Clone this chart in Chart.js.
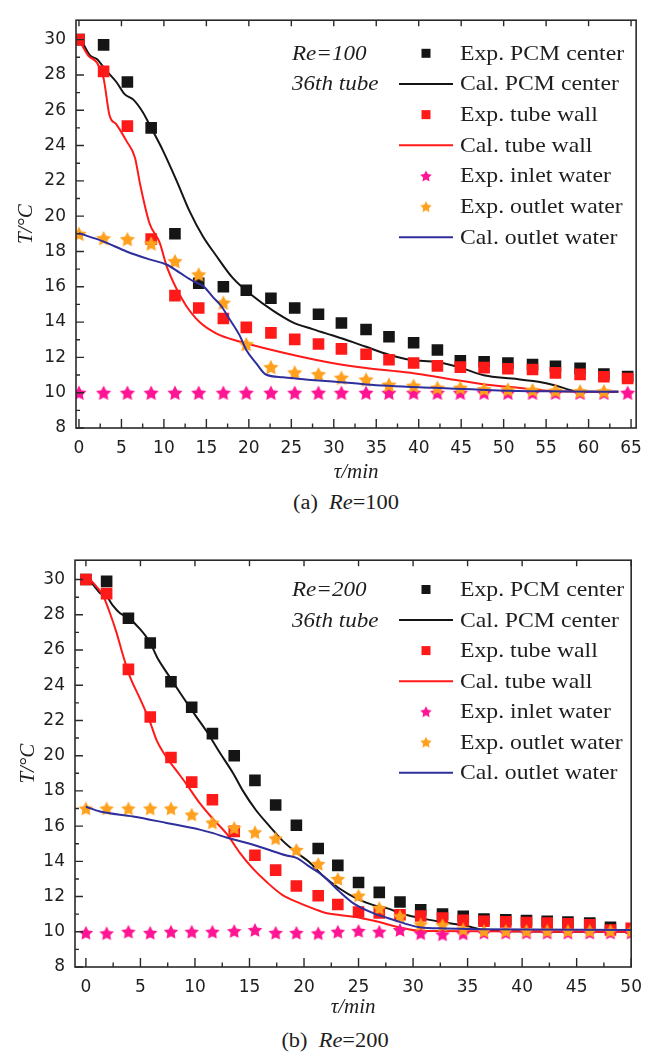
<!DOCTYPE html>
<html>
<head>
<meta charset="utf-8">
<script src="https://cdn.jsdelivr.net/npm/chart.js@4.4.1/dist/chart.umd.min.js"></script>
<style>
  html, body { margin: 0; padding: 0; background: #fff; }
  body { width: 652px; height: 1054px; position: relative; overflow: hidden; }
  canvas { position: absolute; left: 0; }
  #chartA { top: 0; }
  #chartB { top: 540px; }
  .cap {
    position: absolute;
    font-family: "Liberation Serif", "Times New Roman", serif;
    font-size: 20px;
    color: #1e1e1e;
    white-space: pre;
    line-height: 1;
    transform: translate(-50%, -50%) scaleX(1.12);
  }
</style>
</head>
<body>
<canvas id="chartA" width="652" height="490"></canvas>
<canvas id="chartB" width="652" height="480"></canvas>
<div class="cap" style="left:346px; top:502px;">(a)  <i>Re</i>=100</div>
<div class="cap" style="left:335px; top:1040px;">(b)  <i>Re</i>=200</div>

<script>
// ---- series names (legend order) ----
const seriesNames = ['Exp. PCM center', 'Cal. PCM center', 'Exp. tube wall', 'Cal. tube wall',
                     'Exp. inlet water', 'Exp. outlet water', 'Cal. outlet water'];

// ---- axis ticks ----
const yTicks  = [8, 10, 12, 14, 16, 18, 20, 22, 24, 26, 28, 30];
const xTicksA = [0, 5, 10, 15, 20, 25, 30, 35, 40, 45, 50, 55, 60, 65];
const xTicksB = [0, 5, 10, 15, 20, 25, 30, 35, 40, 45, 50];

// ---- (a) Re=100 : measurements ----
const tExpA = [0, 2.9, 5.7, 8.5, 11.3, 14.1, 17.0, 19.7, 22.6, 25.4, 28.2, 30.9,
               33.8, 36.5, 39.4, 42.2, 44.9, 47.7, 50.5, 53.4, 56.1, 59.0, 61.8, 64.6];
const expCenterA = [30.0, 29.7, 27.6, 25.0, 19.0, 16.2, 16.0, 15.8, 15.35, 14.8, 14.44, 13.95,
                    13.58, 13.17, 12.83, 12.42, 11.81, 11.75, 11.68, 11.59, 11.49, 11.38, 11.06, 10.92];
const expWallA = [30.0, 28.2, 25.1, 18.7, 15.5, 14.8, 14.2, 13.7, 13.39, 13.02, 12.76, 12.48,
                  12.18, 11.87, 11.68, 11.52, 11.45, 11.42, 11.36, 11.31, 11.12, 11.04, 10.9, 10.8];
const expInletA = [10, 10, 10, 10, 10, 10, 10, 10, 10, 10, 10, 10,
                   10, 10, 10, 10, 10, 10, 10, 10, 10, 10, 10, 10];
const expOutletA = [19.0, 18.75, 18.7, 18.45, 17.45, 16.7, 15.1, 12.75, 11.45, 11.15, 11.05, 10.85,
                    10.75, 10.45, 10.4, 10.28, 10.28, 10.2, 10.18, 10.15, 10.12, 10.08, 10.08];

// ---- (a) Re=100 : calculation ----
const tCalCenterA = [0.2, 1.3, 2.1, 3.2, 4.4, 5.4, 6.4, 7.5, 8.5, 9.9, 11.5, 13.0, 14.6, 16.1, 18.1, 20.4,
                     22.8, 25.1, 27.5, 29.8, 31.0, 33.8, 36.5, 39.2, 42.0, 44.7, 47.8, 51.0, 54.1, 56.0,
                     58.0, 59.0, 63.5];
const calCenterA = [30.05, 29.1, 28.9, 28.25, 27.6, 26.9, 26.6, 25.9, 25.0, 23.7, 22.0, 20.3, 18.85, 17.8, 16.5, 15.5,
                    14.66, 14.0, 13.6, 13.25, 13.07, 12.6, 12.15, 11.85, 11.75, 11.45, 10.97, 10.8, 10.62, 10.42,
                    10.13, 10.05, 10.05];
const tCalWallA = [0, 1.1, 2.1, 2.9, 3.6, 4.4, 5.6, 6.6, 7.2, 8.3, 9.5, 10.3, 11.5, 12.6, 14.2, 16.2,
                   18.9, 22.0, 25.1, 29.8, 33.8, 37.7, 40.0, 43.9, 47.8, 51.7, 55.6, 63.5];
const calWallA = [30.0, 29.1, 28.7, 27.8, 25.7, 25.2, 24.25, 23.3, 21.8, 19.6, 18.5, 17.2, 15.87, 14.94, 14.0, 13.35,
                  12.9, 12.5, 12.15, 11.68, 11.4, 11.2, 11.06, 10.75, 10.47, 10.28, 10.1, 10.05];
const tCalOutletA = [0, 2.85, 5.6, 8.3, 10.3, 11.85, 13.4, 14.6, 15.8, 16.7, 17.7, 18.9, 19.7, 20.85,
                     22.0, 24.0, 26.7, 29.5, 33.8, 41.6, 49.4, 55.4, 63.5];
const calOutletA = [19.03, 18.57, 18.0, 17.55, 17.26, 16.8, 16.33, 16.05, 15.4, 14.94, 14.19, 13.26, 12.42, 11.68,
                    11.03, 10.88, 10.75, 10.65, 10.47, 10.28, 10.13, 10.08, 10.05];

// ---- (b) Re=200 : measurements ----
const tExpB = [0, 1.9, 3.9, 5.9, 7.8, 9.7, 11.6, 13.6, 15.5, 17.4, 19.3, 21.3, 23.1, 25.0,
               26.9, 28.8, 30.7, 32.7, 34.6, 36.5, 38.5, 40.4, 42.3, 44.2, 46.2, 48.1, 50.0];
const expCenterB = [30.0, 29.9, 27.8, 26.4, 24.2, 22.75, 21.25, 20.0, 18.6, 17.2, 16.05, 14.73, 13.77, 12.8,
                    12.24, 11.69, 11.25, 11.0, 10.88, 10.73, 10.68, 10.64, 10.6, 10.55, 10.5, 10.25];
const expWallB = [30.0, 29.2, 24.9, 22.2, 19.9, 18.5, 17.5, 15.7, 14.35, 13.5, 12.6, 12.05, 11.55, 11.12,
                  11.07, 10.97, 10.9, 10.78, 10.65, 10.6, 10.56, 10.53, 10.5, 10.45, 10.4, 10.1, 10.2];
const expInletB = [9.94, 9.91, 10.0, 9.94, 10.0, 10.0, 10.0, 10.04, 10.1, 9.94, 9.94, 9.91, 10.0, 10.05,
                   10.0, 10.1, 9.91, 9.85, 9.9, 9.95, 9.95, 9.95, 9.95, 9.95, 9.95, 9.95, 9.95];
const expOutletB = [17.0, 17.0, 17.0, 17.0, 17.0, 16.65, 16.2, 15.9, 15.65, 15.3, 14.65, 13.85, 13.0, 12.05,
                    11.35, 10.88, 10.42, 10.38, 10.14, 10.05, 10.05, 10.05, 10.05, 10.05, 10.05, 10.05, 10.05];

// ---- (b) Re=200 : calculation ----
const tCalCenterB = [0.1, 0.67, 1.28, 1.89, 2.5, 3.1, 3.87, 4.95, 5.86, 6.6, 7.4, 8.6, 9.8, 11.05, 12.3, 13.5,
                     14.4, 15.6, 16.85, 18.05, 19.3, 20.5, 21.7, 23.25, 24.8, 26.3, 27.8, 28.75, 30.6, 33.0,
                     34.9, 36.1, 37.9, 50.0];
const calCenterB = [30.1, 29.7, 29.24, 29.05, 28.5, 28.1, 27.84, 27.2, 26.45, 25.5, 24.73, 23.6, 22.5, 21.4, 20.15, 19.0,
                    18.0, 16.9, 15.99, 15.16, 14.5, 13.95, 13.2, 12.46, 11.9, 11.53, 11.3, 11.07, 10.79, 10.51,
                    10.33, 10.14, 10.05, 10.0];
const tCalWallB = [0.1, 0.97, 1.6, 2.2, 2.8, 3.4, 4.0, 4.95, 5.86, 6.5, 7.4, 8.3, 9.2, 10.44, 11.66, 12.9,
                   14.1, 15.3, 16.55, 18.0, 19.6, 21.1, 22.0, 23.25, 25.1, 26.9, 28.75, 30.6, 50.0];
const calWallB = [30.17, 29.6, 29.05, 28.1, 27.0, 25.7, 24.55, 23.25, 21.95, 20.85, 19.9, 19.15, 18.4, 17.3, 16.4, 15.57,
                  14.5, 13.6, 12.84, 12.1, 11.63, 11.26, 11.07, 10.95, 10.8, 10.55, 10.25, 10.05, 10.0];
const tCalOutletB = [0, 1.28, 4.33, 7.4, 10.44, 11.66, 12.9, 14.7, 16.55, 18.4, 19.3, 20.5, 21.7, 23.25,
                     24.5, 26.3, 28.1, 30.6, 33.0, 36.1, 50.0];
const calOutletB = [17.1, 16.83, 16.55, 16.18, 15.8, 15.6, 15.35, 15.06, 14.7, 14.33, 14.2, 13.7, 13.2, 12.28,
                    11.63, 11.07, 10.7, 10.26, 10.19, 10.15, 10.1];

// ---- styling ----
const COL = {
  center: '#151515',
  wall: '#ff1a1a',
  inlet: '#ff1493',
  outlet: '#ffa01e',
  calOutlet: '#2e2e9c',
  ink: '#1e1e1e',
  frame: '#2a2a2a'
};
const SERIF = '"Liberation Serif", "Times New Roman", serif';
const SANS = '"DejaVu Sans", "Liberation Sans", sans-serif';

// filled five-pointed star used as a point marker
function starMarker(color, r) {
  const size = Math.ceil(r * 2) + 2;
  const c = document.createElement('canvas');
  c.width = size; c.height = size;
  const g = c.getContext('2d');
  const cx = size / 2, cy = size / 2 + r * 0.09;
  g.beginPath();
  for (let i = 0; i < 10; i++) {
    const rad = i % 2 === 0 ? r : r * 0.5;
    const a = -Math.PI / 2 + i * Math.PI / 5;
    const px = cx + rad * Math.cos(a), py = cy + rad * Math.sin(a);
    if (i === 0) g.moveTo(px, py); else g.lineTo(px, py);
  }
  g.closePath();
  g.fillStyle = color;
  g.fill();
  return c;
}

const pts = (xs, ys) => ys.map((y, i) => ({ x: xs[i], y }));

function buildDatasets(s, sq, starR) {
  const scatter = (label, data, color, style, radius, order) => ({
    label, data, showLine: false, pointStyle: style, pointRadius: radius, pointHoverRadius: radius,
    backgroundColor: color, borderColor: color, borderWidth: 0, order, clip: 0
  });
  const curve = (label, data, color, order) => ({
    label, data, showLine: true, pointRadius: 0, pointHoverRadius: 0, borderColor: color,
    backgroundColor: color, borderWidth: 2, cubicInterpolationMode: 'monotone', fill: false, order, clip: 0
  });
  return [
    scatter(seriesNames[0], pts(s.tExp, s.expCenter), COL.center, 'rect', sq, 6),
    curve(seriesNames[1], pts(s.tCalCenter, s.calCenter), COL.center, 5),
    scatter(seriesNames[2], pts(s.tExp, s.expWall), COL.wall, 'rect', sq, 4),
    curve(seriesNames[3], pts(s.tCalWall, s.calWall), COL.wall, 3),
    scatter(seriesNames[4], pts(s.tExp, s.expInlet), COL.inlet, starMarker(COL.inlet, starR), starR, 2),
    scatter(seriesNames[5], pts(s.tExp, s.expOutlet), COL.outlet, starMarker(COL.outlet, starR), starR, 1),
    curve(seriesNames[6], pts(s.tCalOutlet, s.calOutlet), COL.calOutlet, 0)
  ];
}

// plot frame with inward major/minor tick marks
const frameTicks = {
  id: 'frameTicks',
  afterDraw(chart, args, o) {
    const { ctx, chartArea: a } = chart;
    const x = chart.scales.x, y = chart.scales.y;
    const xs = x.ticks.map(t => t.value), ys = y.ticks.map(t => t.value);
    const mid = v => v.slice(1).map((w, i) => (w + v[i]) / 2);
    ctx.save();
    ctx.strokeStyle = COL.frame;
    ctx.lineWidth = 1.6;
    ctx.strokeRect(a.left, a.top, a.right - a.left, a.bottom - a.top);
    ctx.lineWidth = 1.4;
    ctx.beginPath();
    xs.forEach(v => {
      const p = x.getPixelForValue(v);
      ctx.moveTo(p, a.bottom); ctx.lineTo(p, a.bottom - o.xMajor);
      ctx.moveTo(p, a.top); ctx.lineTo(p, a.top + o.topMajor);
    });
    mid(xs).forEach(v => {
      const p = x.getPixelForValue(v);
      ctx.moveTo(p, a.bottom); ctx.lineTo(p, a.bottom - o.xMinor);
    });
    ys.forEach(v => {
      const p = y.getPixelForValue(v);
      ctx.moveTo(a.left, p); ctx.lineTo(a.left + o.yMajor, p);
    });
    mid(ys).forEach(v => {
      const p = y.getPixelForValue(v);
      ctx.moveTo(a.left, p); ctx.lineTo(a.left + o.yMinor, p);
    });
    ctx.stroke();
    ctx.restore();
  }
};

// legend and case notes placed inside the plot area
const insideLegend = {
  id: 'insideLegend',
  afterDraw(chart, args, o) {
    const ctx = chart.ctx;
    ctx.save();
    chart.data.datasets.forEach((ds, i) => {
      const yy = o.top + i * o.step;
      if (ds.showLine) {
        ctx.strokeStyle = ds.borderColor;
        ctx.lineWidth = 2;
        ctx.beginPath();
        ctx.moveTo(o.lineFrom, yy); ctx.lineTo(o.lineTo, yy);
        ctx.stroke();
      } else if (ds.pointStyle === 'rect') {
        ctx.fillStyle = ds.backgroundColor;
        ctx.fillRect(o.marker - 4.5, yy - 4.5, 9, 9);
      } else {
        const st = starMarker(ds.backgroundColor, 6);
        ctx.drawImage(st, o.marker - st.width / 2, yy - st.height / 2);
      }
      ctx.save();
      ctx.translate(o.textX, yy + 1);
      ctx.scale(1.13, 1);
      ctx.fillStyle = COL.ink;
      ctx.font = '21px ' + SERIF;
      ctx.textBaseline = 'middle';
      ctx.textAlign = 'left';
      ctx.fillText(ds.label, 0, 0);
      ctx.restore();
    });
    o.notes.forEach((t, i) => {
      ctx.save();
      ctx.translate(o.noteX, o.top + i * o.step + 1);
      ctx.scale(1.1, 1);
      ctx.fillStyle = COL.ink;
      ctx.font = 'italic 21px ' + SERIF;
      ctx.textBaseline = 'middle';
      ctx.fillText(t, 0, 0);
      ctx.restore();
    });
    ctx.restore();
  }
};

function makeChart(id, s, g) {
  return new Chart(document.getElementById(id), {
    type: 'scatter',
    data: { datasets: buildDatasets(s, g.sq, g.starR) },
    options: {
      responsive: false,
      animation: false,
      devicePixelRatio: 1,
      events: [],
      layout: { padding: { left: 0, right: g.padRight, top: g.padTop, bottom: 0 } },
      plugins: {
        legend: { display: false },
        tooltip: { enabled: false },
        frameTicks: { xMajor: 9, xMinor: 4.5, topMajor: 6, yMajor: 8, yMinor: 4 },
        insideLegend: {
          top: g.legTop, step: g.legStep, marker: 426, lineFrom: 399, lineTo: 453,
          textX: 460, noteX: 292, notes: s.notes
        }
      },
      scales: {
        x: {
          type: 'linear', min: g.xMin, max: g.xMax,
          afterBuildTicks: sc => { sc.ticks = s.xTicks.map(v => ({ value: v })); },
          afterFit: sc => { sc.height = g.xAxisH; },
          grid: { display: false, drawTicks: false },
          border: { display: false },
          ticks: { padding: 10, autoSkip: false, maxRotation: 0, color: COL.ink,
                   font: { family: SANS, size: 17 } },
          title: { display: true, text: 'τ/min', color: COL.ink,
                   font: { family: SERIF, size: 21, style: 'italic' },
                   padding: { top: 0, bottom: g.xTitlePad } }
        },
        y: {
          type: 'linear', min: 8, max: 31.1,
          afterBuildTicks: sc => { sc.ticks = yTicks.map(v => ({ value: v })); },
          afterFit: sc => { sc.width = g.yAxisW; },
          grid: { display: false, drawTicks: false },
          border: { display: false },
          ticks: { padding: 10, color: COL.ink, font: { family: SANS, size: 17 } },
          title: { display: true, text: 'T/°C', color: COL.ink,
                   font: { family: SERIF, size: 21, style: 'italic' },
                   padding: { top: g.yTitlePad, bottom: 0 } }
        }
      }
    },
    plugins: [frameTicks, insideLegend]
  });
}

makeChart('chartA', {
  tExp: tExpA, expCenter: expCenterA, expWall: expWallA, expInlet: expInletA, expOutlet: expOutletA,
  tCalCenter: tCalCenterA, calCenter: calCenterA, tCalWall: tCalWallA, calWall: calWallA,
  tCalOutlet: tCalOutletA, calOutlet: calOutletA, xTicks: xTicksA, notes: ['Re=100', '36th tube']
}, {
  sq: 8.2, starR: 8, padTop: 14, padRight: 14, xAxisH: 62, yAxisW: 76, xTitlePad: 5, yTitlePad: 14,
  xMin: -0.35, xMax: 65.6, legTop: 53.3, legStep: 30.67
});

makeChart('chartB', {
  tExp: tExpB, expCenter: expCenterB, expWall: expWallB, expInlet: expInletB, expOutlet: expOutletB,
  tCalCenter: tCalCenterB, calCenter: calCenterB, tCalWall: tCalWallB, calWall: calWallB,
  tCalOutlet: tCalOutletB, calOutlet: calOutletB, xTicks: xTicksB, notes: ['Re=200', '36th tube']
}, {
  sq: 8.2, starR: 7.6, padTop: 14, padRight: 20, xAxisH: 53, yAxisW: 75, xTitlePad: 0, yTitlePad: 16,
  xMin: -1.0, xMax: 50.0, legTop: 49.5, legStep: 30.55
});
</script>
</body>
</html>
